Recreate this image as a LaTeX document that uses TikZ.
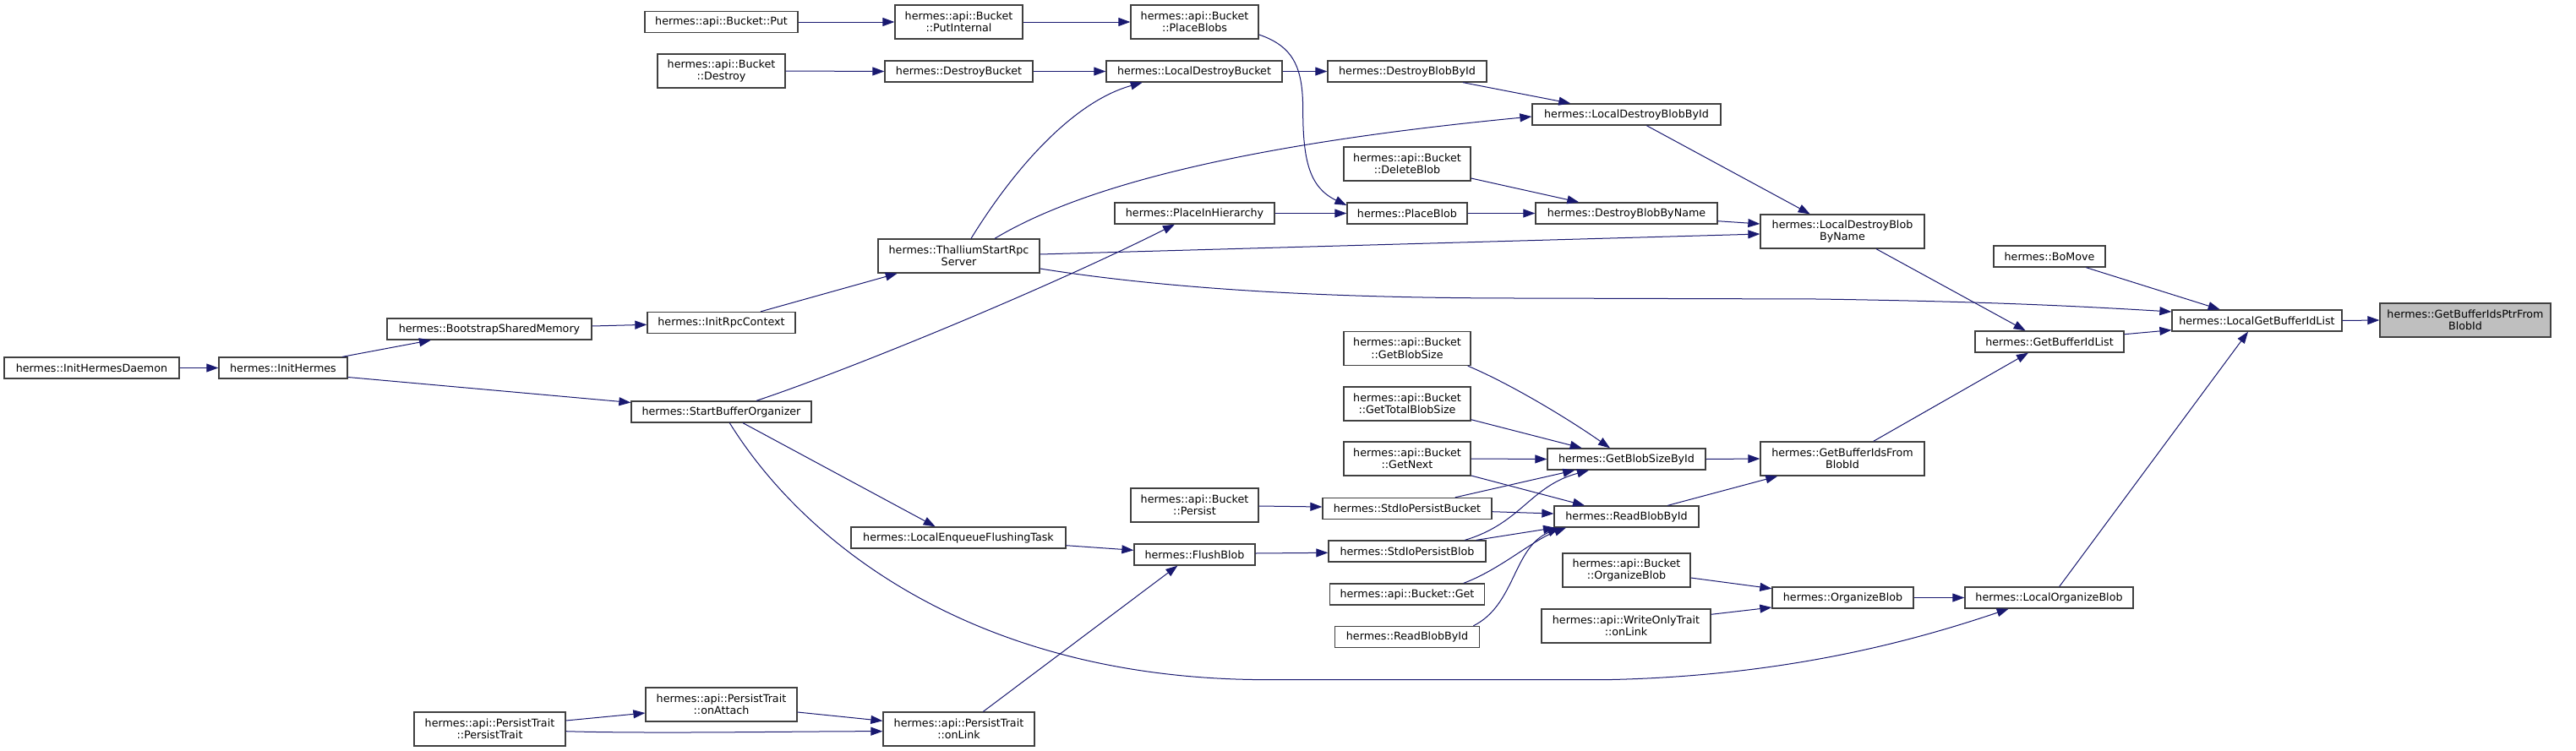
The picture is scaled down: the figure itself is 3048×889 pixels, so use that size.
\documentclass[tikz,border=0pt]{standalone}
\usepackage{fontspec}
\setmainfont{DejaVu Sans}
\usetikzlibrary{arrows.meta,calc}
\definecolor{edgec}{HTML}{191970}
\definecolor{bordc}{HTML}{404040}
\definecolor{hilite}{HTML}{BFBFBF}
\tikzset{
  box/.style={draw=bordc, line width=0.65pt, fill=white, inner sep=0pt, align=center,
    font=\fontsize{6.35}{7.25}\selectfont, text=black},
  edge/.style={draw=edgec, line width=0.5pt, -{Triangle[length=7pt,width=5pt]}},
}
\newcommand{\dnode}[6]{\node[box, minimum width=#4*0.5pt, minimum height=#5*0.5pt] (#1) at (#2,#3) {#6};}
\begin{document}
\begin{tikzpicture}[x=0.5pt,y=-0.5pt]
\useasboundingbox (0,0) rectangle (3048,889);
\dnode{idaemon}{108.5}{435.5}{207}{25}{hermes::InitHermesDaemon}
\dnode{ihermes}{335}{435.5}{152}{25}{hermes::InitHermes}
\dnode{bsm}{579}{389.5}{242}{25}{hermes::BootstrapSharedMemory}
\dnode{put}{853.5}{26}{181}{25}{hermes::api::Bucket::Put}
\dnode{destroy}{853.5}{84}{151}{40}{hermes::api::Bucket\\::Destroy}
\dnode{irpc}{853.5}{382}{175}{25}{hermes::InitRpcContext}
\dnode{sbo}{853.5}{487.5}{213}{25}{hermes::StartBufferOrganizer}
\dnode{onattach}{853.5}{834}{179}{40}{hermes::api::PersistTrait\\::onAttach}
\dnode{ptrait}{579.5}{863}{179}{40}{hermes::api::PersistTrait\\::PersistTrait}
\dnode{putint}{1134.5}{26}{151}{40}{hermes::api::Bucket\\::PutInternal}
\dnode{dbucket}{1134.5}{84.5}{175}{25}{hermes::DestroyBucket}
\dnode{thal}{1134.5}{303}{191}{40}{hermes::ThalliumStartRpc\\Server}
\dnode{lenq}{1134}{636.5}{254}{25}{hermes::LocalEnqueueFlushingTask}
\dnode{onlink}{1134.5}{863}{179}{40}{hermes::api::PersistTrait\\::onLink}
\dnode{placeblobs}{1413.5}{26}{151}{40}{hermes::api::Bucket\\::PlaceBlobs}
\dnode{ldbucket}{1413}{84.5}{208}{25}{hermes::LocalDestroyBucket}
\dnode{pih}{1413.5}{252.5}{189}{25}{hermes::PlaceInHierarchy}
\dnode{persist}{1413.5}{598}{151}{40}{hermes::api::Bucket\\::Persist}
\dnode{flush}{1413.5}{656.5}{143}{25}{hermes::FlushBlob}
\dnode{dbbyid}{1665}{84.5}{188}{25}{hermes::DestroyBlobById}
\dnode{deleteblob}{1665}{194}{150}{40}{hermes::api::Bucket\\::DeleteBlob}
\dnode{placeblob}{1665}{252.5}{142}{25}{hermes::PlaceBlob}
\dnode{getblobsize}{1665}{412.5}{150}{40}{hermes::api::Bucket\\::GetBlobSize}
\dnode{gettotal}{1665}{478}{150}{40}{hermes::api::Bucket\\::GetTotalBlobSize}
\dnode{getnext}{1665}{543}{150}{40}{hermes::api::Bucket\\::GetNext}
\dnode{stdbucket}{1665}{602}{200}{25}{hermes::StdIoPersistBucket}
\dnode{stdblob}{1665}{652.5}{186}{25}{hermes::StdIoPersistBlob}
\dnode{bget}{1665}{703.5}{183}{25}{hermes::api::Bucket::Get}
\dnode{readl}{1665}{754}{171}{25}{hermes::ReadBlobById}
\dnode{ldbbyid}{1924.5}{135.5}{223}{25}{hermes::LocalDestroyBlobById}
\dnode{dbbyname}{1924.5}{252.5}{215}{25}{hermes::DestroyBlobByName}
\dnode{gbsbyid}{1924.5}{543.5}{187}{25}{hermes::GetBlobSizeById}
\dnode{readr}{1924.5}{611.5}{171}{25}{hermes::ReadBlobById}
\dnode{borg}{1924.5}{675}{151}{40}{hermes::api::Bucket\\::OrganizeBlob}
\dnode{wonlink}{1924}{741}{200}{40}{hermes::api::WriteOnlyTrait\\::onLink}
\dnode{ldbbyname}{2180}{274}{194}{40}{hermes::LocalDestroyBlob\\ByName}
\dnode{gbifbid}{2180}{543}{194}{40}{hermes::GetBufferIdsFrom\\BlobId}
\dnode{org}{2180.5}{707.5}{167}{25}{hermes::OrganizeBlob}
\dnode{bomove}{2425}{303.5}{132}{25}{hermes::BoMove}
\dnode{gbil}{2425}{404.5}{176}{25}{hermes::GetBufferIdList}
\dnode{lorg}{2424.5}{707.5}{199}{25}{hermes::LocalOrganizeBlob}
\dnode{lgbil}{2670.5}{379.5}{201}{25}{hermes::LocalGetBufferIdList}
\node[box, fill=hilite, minimum width=202*0.5pt, minimum height=40*0.5pt] (target) at (2917,379) {hermes::GetBufferIdsPtrFrom\\BlobId};

\draw[edge] (idaemon.east) -- (ihermes.west);
\draw[edge] ($(ihermes.north)+(70,0)$) -- ($(bsm.south)+(-69,0)$);
\draw[edge] ($(ihermes.east)+(0,11)$) -- ($(sbo.west)+(0,-11)$);
\draw[edge] ($(bsm.east)+(0,-3.5)$) -- ($(irpc.west)+(0,2.3)$);
\draw[edge] ($(irpc.north)+(46.5,0)$) -- ($(thal.south)+(-72.8,0)$);
\draw[edge] (put.east) -- (putint.west);
\draw[edge] (putint.east) -- (placeblobs.west);
\draw[edge] (destroy.east) -- (dbucket.west);
\draw[edge] (dbucket.east) -- (ldbucket.west);
\draw[edge] ($(thal.north)+(14.5,0)$) .. controls +(51,-83) and +(-82,23) .. ($(ldbucket.south)+(-61.3,0)$);
\draw[edge] ($(thal.north)+(42.5,0)$) .. controls +(113,-68) and +(-313,30) .. ($(ldbbyid.west)+(0,2.5)$);
\draw[edge] ($(placeblobs.east)+(0,15)$) .. controls +(41,14) and +(0,-50) .. ++(52,89) .. controls +(0,60) and +(-44,-21) .. ($(placeblob.west)+(0,-9.5)$);
\draw[edge] (ldbucket.east) -- (dbbyid.west);
\draw[edge] ($(dbbyid.south)+(66,0)$) -- ($(ldbbyid.north)+(-66.2,0)$);
\draw[edge] ($(ldbbyid.south)+(23.8,0)$) -- ($(ldbbyname.north)+(-38.3,0)$);
\draw[edge] ($(deleteblob.east)+(0,17)$) -- ($(dbbyname.north)+(-56.2,0)$);
\draw[edge] (pih.east) -- (placeblob.west);
\draw[edge] (placeblob.east) -- (dbbyname.west);
\draw[edge] ($(dbbyname.east)+(0,9.2)$) -- ($(ldbbyname.west)+(0,-9)$);
\draw[edge] ($(thal.east)+(0,-2)$) -- ($(ldbbyname.west)+(0,3)$);
\draw[edge] ($(thal.east)+(0,15)$) .. controls +(170,27) and +(-200,0) .. ++(570,35) -- ++(350,1) .. controls +(200,3) and +(-118,-7) .. ($(lgbil.west)+(0,-10.5)$);
\draw[edge] ($(sbo.north)+(41.5,0)$) .. controls +(105,-35) and +(-160,80) .. ($(pih.south)+(-23.5,0)$);
\draw[edge] ($(sbo.south)+(25.5,0)$) -- ($(lenq.north)+(-27.3,0)$);
\draw[edge] ($(sbo.south)+(9.8,0)$) .. controls +(87,140) and +(-350,0) .. ++(637,304) -- ++(400,0) .. controls +(200,-4) and +(-127,43) .. ($(lorg.south)+(-47.8,0)$);
\draw[edge] ($(ptrait.east)+(0,-10)$) -- ($(onattach.west)+(0,10)$);
\draw[edge] ($(ptrait.east)+(0,2.7)$) .. controls +(100,3) and +(-100,0) .. ($(onlink.west)+(0,2.7)$);
\draw[edge] ($(onattach.east)+(0,9)$) -- ($(onlink.west)+(0,-9.7)$);
\draw[edge] ($(onlink.north)+(28.8,0)$) -- ($(flush.south)+(-20.2,0)$);
\draw[edge] ($(lenq.east)+(0,9.2)$) -- ($(flush.west)+(0,-5.2)$);
\draw[edge] ($(persist.east)+(0,1)$) -- ($(stdbucket.west)+(0,-2)$);
\draw[edge] ($(flush.east)+(0,-1.5)$) -- ($(stdblob.west)+(0,1.8)$);
\draw[edge] ($(getblobsize.south)+(71.7,0)$) .. controls +(50,21) and +(-50,-35) .. ($(gbsbyid.north)+(-19.5,0)$);
\draw[edge] ($(gettotal.east)+(0,18.7)$) -- ($(gbsbyid.north)+(-52.8,0)$);
\draw[edge] (getnext.east) -- (gbsbyid.west);
\draw[edge] ($(getnext.east)+(0,20)$) -- ($(readr.north)+(-49.5,0)$);
\draw[edge] ($(stdbucket.north)+(56.7,0)$) -- ($(gbsbyid.south)+(-61.2,0)$);
\draw[edge] ($(stdbucket.east)+(0,3.7)$) -- ($(readr.west)+(0,-3.5)$);
\draw[edge] ($(stdblob.north)+(68.3,0)$) .. controls +(67,-20) and +(-70,19) .. ($(gbsbyid.south)+(-44.5,0)$);
\draw[edge] ($(stdblob.north)+(81.7,0)$) -- ($(readr.south)+(-84.5,0)$);
\draw[edge] ($(bget.north)+(66.7,0)$) .. controls +(43,-16) and +(-40,15) .. ($(readr.south)+(-71.5,0)$);
\draw[edge] ($(readl.north)+(78.3,0)$) .. controls +(50,-25) and +(-55,24) .. ($(readr.south)+(-79.5,0)$);
\draw[edge] (gbsbyid.east) -- (gbifbid.west);
\draw[edge] ($(readr.north)+(48.8,0)$) -- ($(gbifbid.south)+(-76.7,0)$);
\draw[edge] ($(borg.east)+(0,9)$) -- ($(org.west)+(0,-10.8)$);
\draw[edge] ($(wonlink.east)+(0,-13.7)$) -- ($(org.west)+(0,11.5)$);
\draw[edge] (org.east) -- (lorg.west);
\draw[edge] ($(lorg.north)+(12.2,0)$) -- ($(lgbil.south)+(-10.5,0)$);
\draw[edge] ($(gbifbid.north)+(36.7,0)$) -- ($(gbil.south)+(-25,0)$);
\draw[edge] ($(ldbbyname.south)+(40,0)$) -- ($(gbil.north)+(-28.3,0)$);
\draw[edge] ($(gbil.east)+(0,-8.8)$) -- ($(lgbil.west)+(0,11.2)$);
\draw[edge] ($(bomove.south)+(43.3,0)$) -- ($(lgbil.north)+(-43.8,0)$);
\draw[edge] (lgbil.east) -- (target.west);
\end{tikzpicture}
\end{document}
